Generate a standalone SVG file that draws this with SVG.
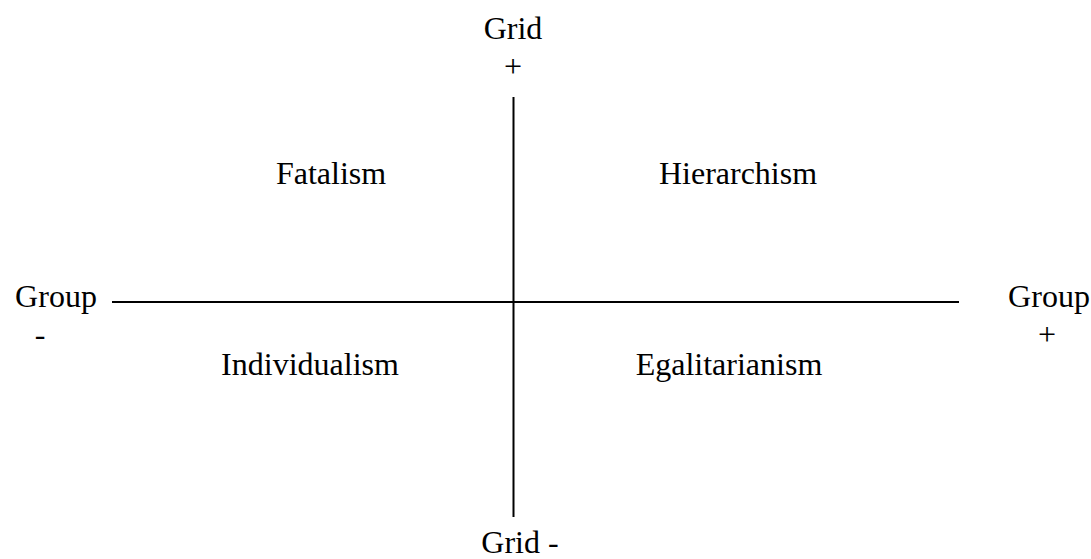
<svg xmlns="http://www.w3.org/2000/svg" width="1091" height="559" viewBox="0 0 1091 559">
<style>
text{font-family:'Liberation Serif',Tinos,'Times New Roman','DejaVu Serif',serif;font-size:32px;fill:#000;text-anchor:middle}
.axis{stroke:#000;stroke-width:2;fill:none}
</style>
<rect width="1091" height="559" fill="#fff"/>
<g id="connectors">
<line class="axis" x1="112" y1="302" x2="959" y2="302"/>
<line class="axis" x1="513.5" y1="97" x2="513.5" y2="517"/>
</g>
<g id="grid-plus"><text x="513" y="39">Grid</text><text x="513" y="77">+</text></g>
<g id="grid-minus"><text x="520" y="553">Grid -</text></g>
<g id="group-minus"><text x="56" y="307">Group</text><text x="40" y="345">-</text></g>
<g id="group-plus"><text x="1049" y="307">Group</text><text x="1047" y="345">+</text></g>
<g id="fatalism"><text x="331" y="184">Fatalism</text></g>
<g id="hierarchism"><text x="738" y="184">Hierarchism</text></g>
<g id="individualism"><text x="310" y="375">Individualism</text></g>
<g id="egalitarianism"><text x="729" y="375">Egalitarianism</text></g>
</svg>
